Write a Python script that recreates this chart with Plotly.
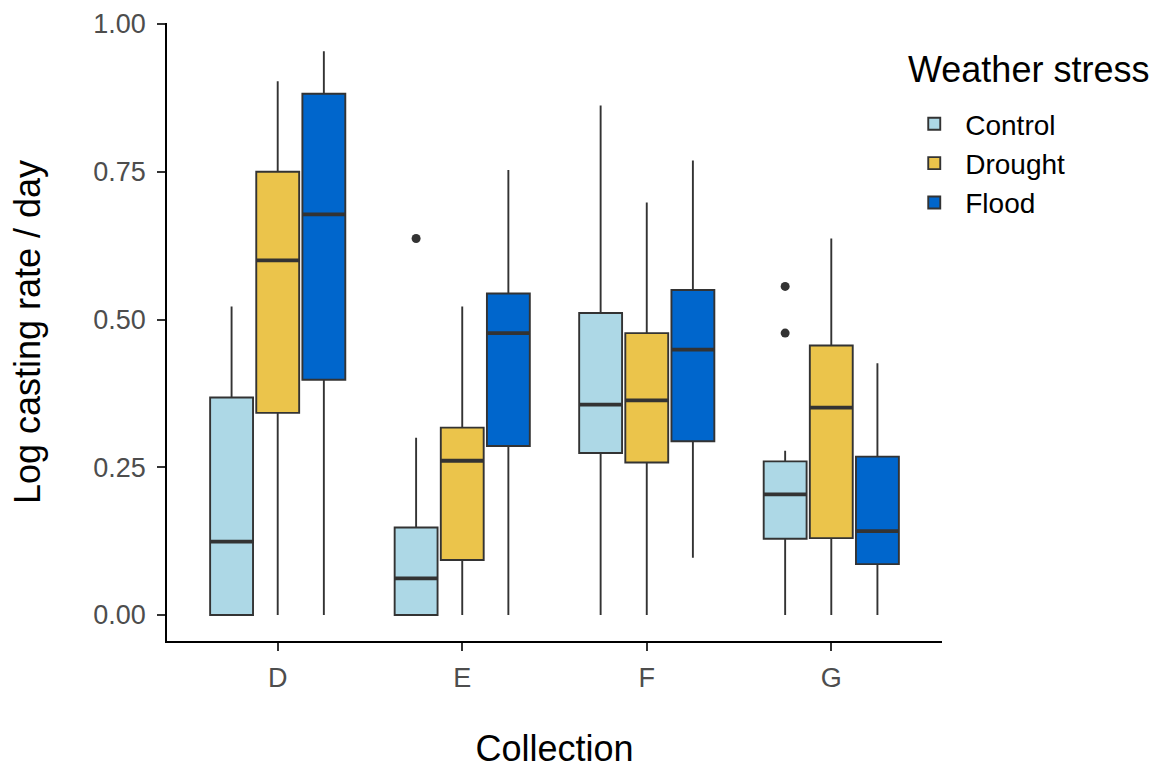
import plotly.graph_objects as go

# Box summary statistics of log casting rate per collection and weather stress
collections = ["D", "E", "F", "G"]
treatments = ["Control", "Drought", "Flood"]

control_q1 = [0.000, 0.000, 0.274, 0.129]
control_median = [0.124, 0.062, 0.356, 0.204]
control_q3 = [0.368, 0.148, 0.511, 0.260]
control_lower = [0.000, 0.000, 0.000, 0.000]
control_upper = [0.522, 0.300, 0.862, 0.278]

drought_q1 = [0.342, 0.093, 0.258, 0.130]
drought_median = [0.600, 0.261, 0.363, 0.351]
drought_q3 = [0.750, 0.317, 0.477, 0.456]
drought_lower = [0.000, 0.000, 0.000, 0.000]
drought_upper = [0.903, 0.522, 0.698, 0.637]

flood_q1 = [0.398, 0.286, 0.294, 0.086]
flood_median = [0.678, 0.477, 0.449, 0.142]
flood_q3 = [0.882, 0.544, 0.550, 0.268]
flood_lower = [0.000, 0.000, 0.097, 0.000]
flood_upper = [0.954, 0.753, 0.769, 0.426]

# Outlying observations (Control group only)
outlier_collection = ["E", "G", "G"]
outlier_value = [0.637, 0.556, 0.477]

fill_colors = {"Control": "#ADD8E6", "Drought": "#EBC44B", "Flood": "#0066CC"}
edge = "#333333"
font_family = "Liberation Sans, Arial, sans-serif"

stats = {
    "Control": (control_q1, control_median, control_q3, control_lower, control_upper),
    "Drought": (drought_q1, drought_median, drought_q3, drought_lower, drought_upper),
    "Flood": (flood_q1, flood_median, flood_q3, flood_lower, flood_upper),
}

fig = go.Figure()

for name in treatments:
    q1, med, q3, lo, hi = stats[name]
    fig.add_trace(go.Box(
        name=name,
        x=collections,
        q1=q1, median=med, q3=q3,
        lowerfence=lo, upperfence=hi,
        boxpoints=False,
        fillcolor=fill_colors[name],
        line=dict(color=edge, width=1.9),
        whiskerwidth=0,
        offsetgroup=name,
        alignmentgroup="all",
        hoverinfo="skip",
    ))

# Thicker median bars drawn on top of each box
for name in treatments:
    q1, med, q3, lo, hi = stats[name]
    fig.add_trace(go.Box(
        name=name + " median",
        x=collections,
        q1=med, median=med, q3=med,
        lowerfence=med, upperfence=med,
        boxpoints=False,
        fillcolor="rgba(0,0,0,0)",
        line=dict(color=edge, width=3.8),
        whiskerwidth=0,
        offsetgroup=name,
        alignmentgroup="all",
        showlegend=False,
        hoverinfo="skip",
    ))

# Outlier points, placed in the Control slot of each group
fig.add_trace(go.Box(
    name="Control outliers",
    x=outlier_collection,
    y=outlier_value,
    boxpoints="all",
    pointpos=0, jitter=0,
    marker=dict(color=edge, size=9, line=dict(width=0)),
    fillcolor="rgba(0,0,0,0)",
    line=dict(color="rgba(0,0,0,0)", width=0),
    whiskerwidth=0,
    offsetgroup="Control",
    alignmentgroup="all",
    showlegend=False,
    hoverinfo="skip",
))

fig.update_layout(
    width=1167, height=769,
    paper_bgcolor="white", plot_bgcolor="white",
    margin=dict(l=167, r=225, t=23, b=128),
    boxmode="group",
    boxgap=0.25,
    boxgroupgap=0.07,
    font=dict(family=font_family, color="black"),
    legend=dict(
        font=dict(size=28, color="black"),
        x=0.95, xanchor="left", y=0.877, yanchor="top",
        bgcolor="rgba(0,0,0,0)",
        tracegroupgap=0,
        itemwidth=52,
    ),
    annotations=[dict(
        text="Weather stress",
        xref="paper", yref="paper",
        x=0.953, y=0.924, xanchor="left", yanchor="middle",
        showarrow=False,
        font=dict(size=36, color="black"),
    )],
    xaxis=dict(
        type="category",
        categoryorder="array", categoryarray=collections,
        range=[-0.6, 3.6],
        automargin=False,
        showline=True, linecolor="black", linewidth=1.8,
        ticks="outside", ticklen=8, tickcolor="#333333", tickwidth=1.6,
        ticklabelstandoff=4,
        tickfont=dict(size=27, color="#4D4D4D"),
        showgrid=False, zeroline=False,
        title=dict(text="Collection", font=dict(size=36, color="black"), standoff=53),
    ),
    yaxis=dict(
        range=[-0.044, 1.0017],
        tickvals=[0, 0.25, 0.5, 0.75, 1.0],
        ticktext=["0.00", "0.25", "0.50", "0.75", "1.00"],
        automargin=False,
        showline=True, linecolor="black", linewidth=1.8,
        ticks="outside", ticklen=8, tickcolor="#333333", tickwidth=1.6,
        ticklabelstandoff=6,
        tickfont=dict(size=27, color="#4D4D4D"),
        showgrid=False, zeroline=False,
        title=dict(text="Log casting rate / day", font=dict(size=36, color="black"), standoff=42),
    ),
)

fig.write_html("out.html")
